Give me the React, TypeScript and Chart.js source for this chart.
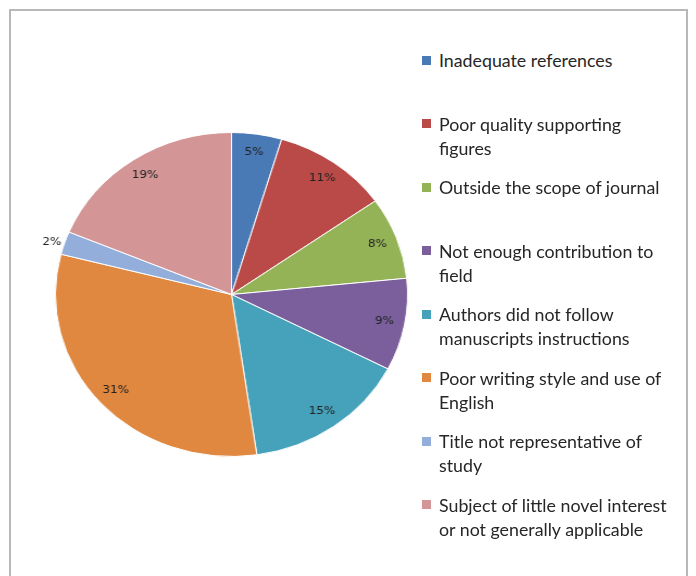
import React, { useEffect, useRef } from "react";
import { Chart, registerables } from "chart.js";

Chart.register(...registerables);

// ---- data ----
const categories: string[][] = [
  ["Inadequate references"],
  ["Poor quality supporting", "figures"],
  ["Outside the scope of journal"],
  ["Not enough contribution to", "field"],
  ["Authors did not follow", "manuscripts instructions"],
  ["Poor writing style and use of", "English"],
  ["Title not representative of", "study"],
  ["Subject of little novel interest", "or not generally applicable"],
];
// slice shares (percent of total)
const shares: number[] = [4.6, 10.6, 8.2, 9.2, 15.1, 31.3, 2.3, 18.7];
const sliceColors: string[] = [
  "#4a7ab6",
  "#b94a47",
  "#94b356",
  "#7b5f9c",
  "#46a1ba",
  "#e0883f",
  "#93aedb",
  "#d39596",
];

const pctLabels = {
  id: "pctLabels",
  afterDatasetsDraw(chart: any) {
    const ctx = chart.ctx as CanvasRenderingContext2D;
    const meta = chart.getDatasetMeta(0);
    const data = chart.data.datasets[0].data as number[];
    const total = data.reduce((a, b) => a + b, 0);
    ctx.save();
    ctx.font = "11px 'DejaVu Sans'";
    ctx.fillStyle = "#222222";
    ctx.textBaseline = "middle";
    meta.data.forEach((arc: any, i: number) => {
      const p = arc.getProps(["x", "y", "startAngle", "endAngle", "outerRadius"], true);
      const mid = (p.startAngle + p.endAngle) / 2;
      const pct = Math.round((data[i] / total) * 100);
      let r: number;
      let align: CanvasTextAlign;
      if (pct < 3) {
        r = p.outerRadius + 3;
        align = Math.cos(mid) < 0 ? "right" : "left";
      } else {
        r = p.outerRadius * 0.885;
        align = "center";
      }
      ctx.textAlign = align;
      ctx.fillText(pct + "%", p.x + Math.cos(mid) * r, p.y + Math.sin(mid) * r);
    });
    ctx.restore();
  },
};

export default function App() {
  const canvasRef = useRef<HTMLCanvasElement | null>(null);

  useEffect(() => {
    if (!canvasRef.current) return;
    const chart = new Chart(canvasRef.current, {
      type: "pie",
      data: {
        labels: categories as any,
        datasets: [
          {
            data: shares,
            backgroundColor: sliceColors,
            borderColor: "#ffffff",
            borderWidth: 1,
            hoverOffset: 0,
          },
        ],
      },
      options: {
        animation: false,
        responsive: true,
        maintainAspectRatio: false,
        layout: { padding: { left: 30, right: 30, top: 10, bottom: 10 } },
        plugins: {
          legend: { display: false },
          tooltip: { enabled: false },
        },
      },
      plugins: [pctLabels],
    });
    return () => chart.destroy();
  }, []);

  return (
    <div
      style={{
        position: "absolute",
        left: 0,
        top: 0,
        width: 696,
        height: 576,
        overflow: "hidden",
        background: "#ffffff",
      }}
    >
      <div
        style={{
          position: "absolute",
          left: 9,
          top: 9,
          width: 679,
          height: 640,
          border: "2px solid #b8b8b8",
          boxSizing: "border-box",
        }}
      />
      <div
        style={{
          position: "absolute",
          left: 38.5,
          top: 121.5,
          width: 385,
          height: 345,
          transform: "scaleX(1.087)",
          transformOrigin: "50% 50%",
        }}
      >
        <canvas ref={canvasRef} />
      </div>
      {categories.map((lines, i) => (
        <div
          key={i}
          style={{
            position: "absolute",
            left: 422,
            top: 48 + i * 63.57,
            fontFamily: "Lato, 'Noto Sans', sans-serif",
            fontSize: 17.8,
            lineHeight: "24px",
            color: "#262626",
            whiteSpace: "nowrap",
          }}
        >
          <span
            style={{
              position: "absolute",
              left: 0,
              top: 7.5,
              width: 9,
              height: 9,
              background: sliceColors[i],
            }}
          />
          <div style={{ paddingLeft: 17 }}>
            {lines.map((ln, j) => (
              <div key={j}>{ln}</div>
            ))}
          </div>
        </div>
      ))}
    </div>
  );
}
